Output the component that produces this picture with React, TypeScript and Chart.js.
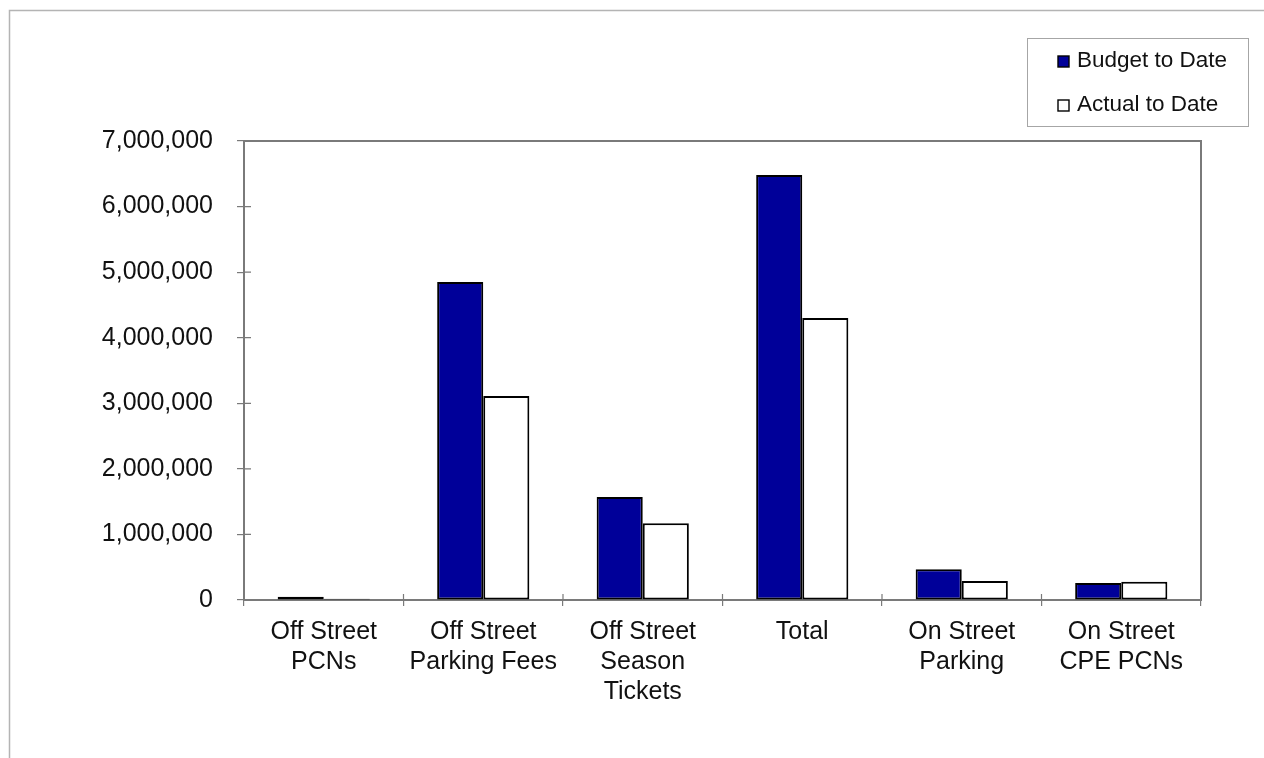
import React, { useEffect, useRef } from "react";
import { Chart, registerables } from "chart.js";

Chart.register(...registerables);

const categories: (string | string[])[] = [
  ["Off Street", "PCNs"],
  ["Off Street", "Parking Fees"],
  ["Off Street", "Season", "Tickets"],
  "Total",
  ["On Street", "Parking"],
  ["On Street", "CPE PCNs"],
];
const budgetToDate = [50000, 4850000, 1570000, 6480000, 470000, 260000];
const actualToDate = [20000, 3110000, 1170000, 4300000, 290000, 280000];
const seriesNames = ["Budget to Date", "Actual to Date"];
const yMax = 7000000;
const yStep = 1000000;

const FONT = "'Liberation Sans', Arial, sans-serif";
const AXIS_GRAY = "#7a7a7a";
const TEXT = "#111111";

const framePlugin = {
  id: "frame",
  beforeDraw(chart: any) {
    const ctx = chart.ctx;
    ctx.save();
    ctx.fillStyle = "#ffffff";
    ctx.fillRect(0, 0, chart.width, chart.height);
    ctx.strokeStyle = "#b4b4b4";
    ctx.lineWidth = 1.5;
    ctx.beginPath();
    ctx.moveTo(9.5, chart.height);
    ctx.lineTo(9.5, 10.5);
    ctx.lineTo(chart.width, 10.5);
    ctx.stroke();
    ctx.restore();
  },
  beforeDatasetsDraw(chart: any) {
    const { ctx, chartArea } = chart;
    ctx.save();
    ctx.strokeStyle = AXIS_GRAY;
    ctx.lineWidth = 2;
    ctx.strokeRect(chartArea.left, chartArea.top, chartArea.right - chartArea.left, chartArea.bottom - chartArea.top);
    // inner parts of tick marks (crossing the axes)
    const y = chart.scales.y;
    const x = chart.scales.x;
    ctx.lineWidth = 1.2;
    ctx.beginPath();
    y.ticks.forEach((_t: any, i: number) => {
      const py = y.getPixelForTick(i);
      ctx.moveTo(chartArea.left, py);
      ctx.lineTo(chartArea.left + 7, py);
    });
    const n = x.ticks.length;
    for (let i = 0; i <= n; i++) {
      const px = chartArea.left + (i * (chartArea.right - chartArea.left)) / n;
      ctx.moveTo(px, chartArea.bottom);
      ctx.lineTo(px, chartArea.bottom - 6);
    }
    ctx.stroke();
    ctx.restore();
  },
};

const legendPlugin = {
  id: "boxLegend",
  afterDraw(chart: any) {
    const ctx = chart.ctx;
    const bx = 1027, by = 38, bw = 221, bh = 88;
    ctx.save();
    ctx.fillStyle = "#ffffff";
    ctx.fillRect(bx, by, bw, bh);
    ctx.strokeStyle = "#a6a6a6";
    ctx.lineWidth = 1;
    ctx.strokeRect(bx + 0.5, by + 0.5, bw, bh);
    ctx.font = `22.5px ${FONT}`;
    ctx.textBaseline = "middle";
    ctx.textAlign = "left";
    chart.data.datasets.forEach((ds: any, i: number) => {
      const cy = 61 + i * 44;
      ctx.fillStyle = ds.backgroundColor;
      ctx.fillRect(1058, cy - 5, 11, 11);
      ctx.strokeStyle = "#000000";
      ctx.lineWidth = 1.4;
      ctx.strokeRect(1058, cy - 5, 11, 11);
      ctx.fillStyle = TEXT;
      ctx.fillText(ds.label, 1077, cy);
    });
    ctx.restore();
  },
};

export default function App() {
  const ref = useRef<HTMLCanvasElement>(null);
  useEffect(() => {
    if (!ref.current) return;
    const chart = new Chart(ref.current, {
      type: "bar",
      data: {
        labels: categories,
        datasets: [
          {
            label: seriesNames[0],
            data: budgetToDate,
            backgroundColor: "#000099",
            borderColor: "#000000",
            borderWidth: 2,
            borderSkipped: false,
          },
          {
            label: seriesNames[1],
            data: actualToDate,
            backgroundColor: "#ffffff",
            borderColor: "#000000",
            borderWidth: 2,
            borderSkipped: false,
          },
        ],
      },
      options: {
        responsive: false,
        animation: false,
        devicePixelRatio: 1,
        layout: { padding: { left: 0, top: 141, right: 63, bottom: 0 } },
        plugins: {
          legend: { display: false },
          tooltip: { enabled: false },
        },
        datasets: {
          bar: { categoryPercentage: 0.578, barPercentage: 1 },
        },
        scales: {
          x: {
            offset: true,
            grid: {
              offset: true,
              drawOnChartArea: false,
              drawTicks: true,
              tickLength: 6,
              color: AXIS_GRAY,
              lineWidth: 1.2,
            },
            border: { display: true, color: AXIS_GRAY, width: 2 },
            ticks: {
              autoSkip: false,
              maxRotation: 0,
              minRotation: 0,
              padding: 11,
              color: TEXT,
              font: { family: FONT, size: 25, lineHeight: 1.2 },
            },
            afterFit(scale: any) {
              scale.height = 158;
            },
          },
          y: {
            min: 0,
            max: yMax,
            grid: {
              drawOnChartArea: false,
              drawTicks: true,
              tickLength: 7,
              color: AXIS_GRAY,
              lineWidth: 1.2,
            },
            border: { display: true, color: AXIS_GRAY, width: 2 },
            ticks: {
              stepSize: yStep,
              padding: 24,
              color: TEXT,
              font: { family: FONT, size: 25 },
              callback: (v: any) => Number(v).toLocaleString("en-US"),
            },
            afterFit(scale: any) {
              scale.width = 244;
            },
          },
        },
      },
      plugins: [framePlugin, legendPlugin],
    });
    return () => chart.destroy();
  }, []);
  return (
    <div style={{ position: "fixed", left: 0, top: 0, width: 1264, height: 758, background: "#fff" }}>
      <canvas ref={ref} width={1264} height={758} style={{ display: "block" }} />
    </div>
  );
}
